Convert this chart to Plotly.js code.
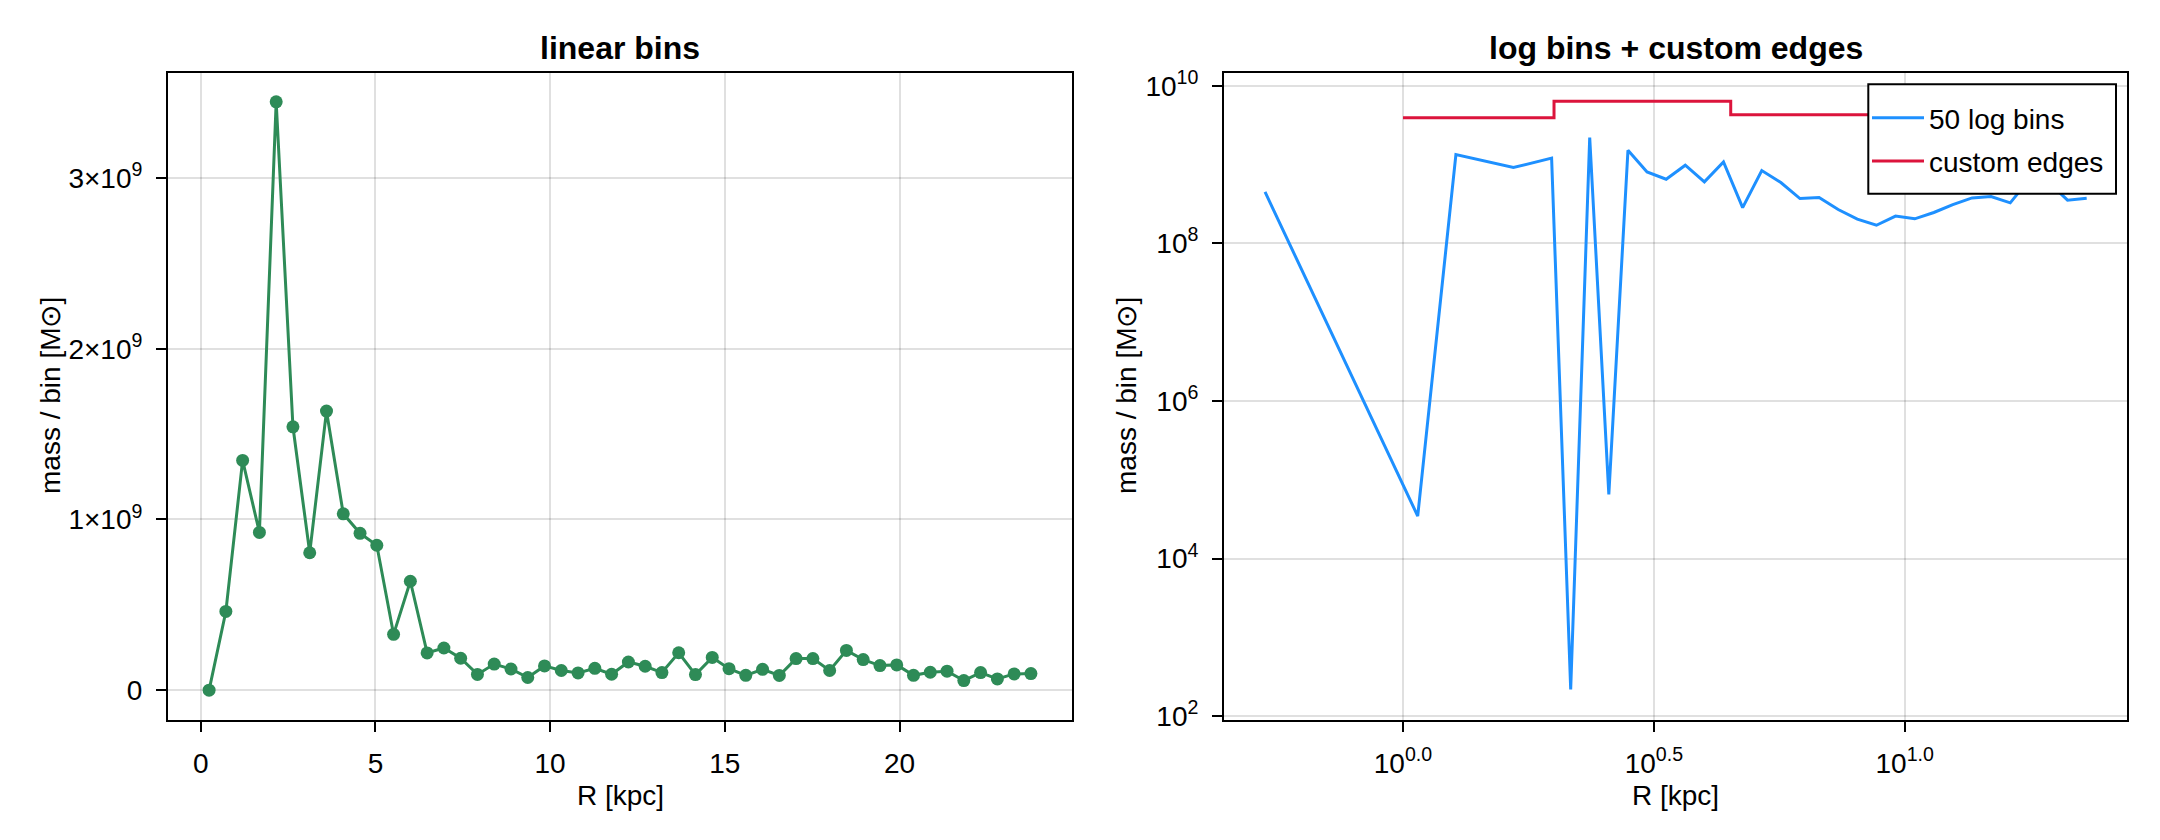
<!DOCTYPE html>
<html>
<head>
<meta charset="utf-8">
<script src="https://cdn.plot.ly/plotly-3.0.1.min.js"></script>
<style>html,body{margin:0;padding:0;background:#fff;}#chart{width:2160px;height:840px;}</style>
</head>
<body>
<div id="chart"></div>
<script>
// ---- linear bins (bin centres, kpc) ----
const linR = [0.24,0.72,1.20,1.68,2.16,2.64,3.12,3.60,4.08,4.56,5.04,5.52,6.00,6.48,6.96,7.44,7.92,8.40,8.88,9.36,9.84,10.32,10.80,11.28,11.76,12.24,12.72,13.20,13.68,14.16,14.64,15.12,15.60,16.08,16.56,17.04,17.52,18.00,18.48,18.96,19.44,19.92,20.40,20.88,21.36,21.84,22.32,22.80,23.28,23.76];
// mass per bin in units of 1e9 Msun
const linMass = [0.0,0.461,1.346,0.924,3.447,1.543,0.805,1.635,1.033,0.919,0.849,0.327,0.638,0.218,0.247,0.187,0.092,0.153,0.124,0.074,0.142,0.115,0.101,0.128,0.093,0.165,0.140,0.103,0.219,0.091,0.192,0.126,0.087,0.122,0.086,0.185,0.185,0.115,0.233,0.179,0.144,0.148,0.087,0.105,0.111,0.056,0.103,0.066,0.095,0.097];

// ---- 50 log bins (non-empty bins) ----
const logR = [0.531,1.070,1.275,1.660,1.978,2.159,2.356,2.572,2.808,3.065,3.346,3.653,3.988,4.353,4.753,5.189,5.664,6.184,6.751,7.369,8.045,8.782,9.587,10.47,11.43,12.47,13.62,14.86,16.23,17.71,19.34,21.11,23.05];
const logMass = [4.5e8,3.47e4,1.34e9,9.18e8,1.21e9,218,2.21e9,6.53e4,1.52e9,8.09e8,6.53e8,9.84e8,6.04e8,1.08e9,2.85e8,8.41e8,5.92e8,3.71e8,3.82e8,2.69e8,2.03e8,1.70e8,2.22e8,2.05e8,2.47e8,3.11e8,3.78e8,3.93e8,3.27e8,6.5e8,6.0e8,3.54e8,3.75e8];

// ---- custom edges ----
const customEdges = [1, 2, 4.5, 10];
const customMass = [3.93e9, 6.38e9, 4.29e9];

// ---- tick labels ----
const linYTickVals = [0, 1e9, 2e9, 3e9];
const linYTickText = ['0', '1×10<sup>9</sup>', '2×10<sup>9</sup>', '3×10<sup>9</sup>'];
const linXTickVals = [0, 5, 10, 15, 20];
const logXTickVals = [1, Math.pow(10, 0.5), 10];
const logXTickText = ['10<sup>0.0</sup>', '10<sup>0.5</sup>', '10<sup>1.0</sup>'];
const logYTickVals = [1e2, 1e4, 1e6, 1e8, 1e10];
const logYTickText = ['10<sup>2</sup>', '10<sup>4</sup>', '10<sup>6</sup>', '10<sup>8</sup>', '10<sup>10</sup>'];

const FONT = 'Liberation Sans, Arial, Helvetica, sans-serif';
const W = 2160, H = 840;
const px = v => v / W, py = v => 1 - v / H;

const linMassAbs = linMass.map(v => v * 1e9);
const stairY = customMass.concat([customMass[customMass.length - 1]]);

const traces = [
  {x: linR, y: linMassAbs, type: 'scatter', mode: 'lines+markers',
   line: {color: '#2e8b57', width: 3}, marker: {color: '#2e8b57', size: 13},
   xaxis: 'x', yaxis: 'y', showlegend: false, name: 'linear bins'},
  {x: logR, y: logMass, type: 'scatter', mode: 'lines',
   line: {color: '#1e90ff', width: 3}, xaxis: 'x2', yaxis: 'y2',
   name: '50 log bins', legendgroup: 'a'},
  {x: customEdges, y: stairY, type: 'scatter', mode: 'lines',
   line: {color: '#dc143c', width: 3, shape: 'hv'}, xaxis: 'x2', yaxis: 'y2',
   name: 'custom edges', legendgroup: 'b'}
];

const axCommon = {
  showline: true, linecolor: '#000', linewidth: 2, mirror: true,
  ticks: 'outside', ticklen: 10, tickwidth: 2, tickcolor: '#000',
  showgrid: true, gridcolor: 'rgba(0,0,0,0.12)', gridwidth: 2,
  zeroline: false, tickfont: {family: FONT, size: 28, color: '#000'},
  ticklabelstandoff: 8, fixedrange: true
};
const yDom = [py(719.5), py(72.5)];

const layout = {
  width: W, height: H,
  margin: {l: 0, r: 0, t: 0, b: 0},
  paper_bgcolor: '#fff', plot_bgcolor: '#fff',
  font: {family: FONT, size: 28, color: '#000'},
  xaxis: Object.assign({}, axCommon, {domain: [px(168), px(1072)], range: [-0.936, 24.936],
    tickmode: 'array', tickvals: linXTickVals, anchor: 'y'}),
  yaxis: Object.assign({}, axCommon, {domain: yDom, range: [-0.172e9, 3.619e9],
    tickmode: 'array', tickvals: linYTickVals, ticktext: linYTickText, anchor: 'x'}),
  xaxis2: Object.assign({}, axCommon, {domain: [px(1224), px(2127)], type: 'log', range: [-0.3567, 1.443],
    tickmode: 'array', tickvals: logXTickVals, ticktext: logXTickText, anchor: 'y2'}),
  yaxis2: Object.assign({}, axCommon, {domain: yDom, type: 'log', range: [1.958, 10.169],
    tickmode: 'array', tickvals: logYTickVals, ticktext: logYTickText, anchor: 'x2'}),
  showlegend: true,
  legend: {x: px(1867), xanchor: 'left', y: py(93), yanchor: 'top',
    bgcolor: 'rgba(0,0,0,0)', borderwidth: 0,
    font: {family: FONT, size: 28, color: '#000'}, tracegroupgap: 4, itemwidth: 52},
  shapes: [
    {type: 'rect', xref: 'paper', yref: 'paper', layer: 'above',
     x0: px(1868.3), x1: px(2116), y0: py(193.7), y1: py(84.3),
     fillcolor: '#fff', line: {color: '#000', width: 2}}
  ],
  annotations: [
    {text: '<b>linear bins</b>', x: px(620), y: py(48), xref: 'paper', yref: 'paper',
     xanchor: 'center', yanchor: 'middle', showarrow: false, font: {family: FONT, size: 32, color: '#000'}},
    {text: '<b>log bins + custom edges</b>', x: px(1675.5), y: py(48), xref: 'paper', yref: 'paper',
     xanchor: 'center', yanchor: 'middle', showarrow: false, font: {family: FONT, size: 32, color: '#000'}},
    {text: 'R [kpc]', x: px(620), y: py(795), xref: 'paper', yref: 'paper',
     xanchor: 'center', yanchor: 'middle', showarrow: false, font: {family: FONT, size: 28, color: '#000'}},
    {text: 'R [kpc]', x: px(1675.5), y: py(795), xref: 'paper', yref: 'paper',
     xanchor: 'center', yanchor: 'middle', showarrow: false, font: {family: FONT, size: 28, color: '#000'}},
    {text: 'mass / bin [M⊙]', x: px(50), y: py(396), xref: 'paper', yref: 'paper', textangle: -90,
     xanchor: 'center', yanchor: 'middle', showarrow: false, font: {family: FONT, size: 28, color: '#000'}},
    {text: 'mass / bin [M⊙]', x: px(1126), y: py(396), xref: 'paper', yref: 'paper', textangle: -90,
     xanchor: 'center', yanchor: 'middle', showarrow: false, font: {family: FONT, size: 28, color: '#000'}}
  ]
};

Plotly.newPlot('chart', traces, layout, {displayModeBar: false});
</script>
</body>
</html>
